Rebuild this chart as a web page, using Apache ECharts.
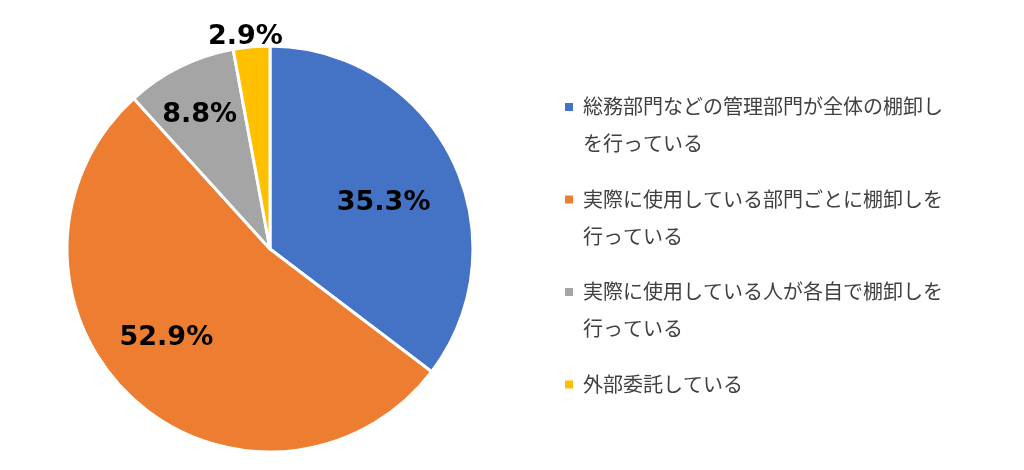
<!DOCTYPE html>
<html><head><meta charset="utf-8">
<script src="https://cdn.jsdelivr.net/npm/echarts@6/dist/echarts.min.js"></script>
<style>html,body{margin:0;padding:0;background:#fff}#c{width:1024px;height:470px}</style>
</head><body><div id="c"></div>
<script>
const categories = [
  '総務部門などの管理部門が全体の棚卸しを行っている',
  '実際に使用している部門ごとに棚卸しを行っている',
  '実際に使用している人が各自で棚卸しを行っている',
  '外部委託している'
];
const values = [35.3, 52.9, 8.8, 2.9];
const colors = ['#4472C4', '#ED7D31', '#A5A5A5', '#FFC000'];

const labelShift = [[20, 0], [-33, 12], [-24, -40], [-15, -108]];
const iconPath = 'path://M0,0 L0,0 M0,14 L10,14 L10,24 L0,24 Z M14,74 L14,74';

const chart = echarts.init(document.getElementById('c'));
chart.setOption({
  animation: false,
  color: colors,
  legend: {
    orient: 'vertical',
    left: 558,
    top: 82,
    itemWidth: 14,
    itemHeight: 74,
    itemGap: 16.5,
    icon: iconPath,
    selectedMode: false,
    formatter: function (name) {
      return categories.indexOf(name) === 3 ? name + '\n ' : name;
    },
    textStyle: {
      fontFamily: 'Noto Sans CJK JP',
      fontSize: 20,
      color: '#404040',
      width: 365,
      overflow: 'break',
      lineHeight: 37
    },
    data: categories
  },
  series: [{
    type: 'pie',
    center: [270, 249],
    radius: 203,
    startAngle: 90,
    clockwise: true,
    itemStyle: { borderColor: '#fff', borderWidth: 3 },
    label: {
      show: true,
      position: 'inside',
      formatter: '{c}%',
      fontFamily: 'DejaVu Sans',
      fontWeight: 'bold',
      fontSize: 27,
      color: '#000'
    },
    labelLine: { show: false },
    labelLayout: function (p) {
      const s = labelShift[p.dataIndex];
      return { dx: s[0], dy: s[1] };
    },
    emphasis: { disabled: true },
    data: categories.map((n, i) => ({ name: n, value: values[i] }))
  }]
});
</script>
</body></html>
